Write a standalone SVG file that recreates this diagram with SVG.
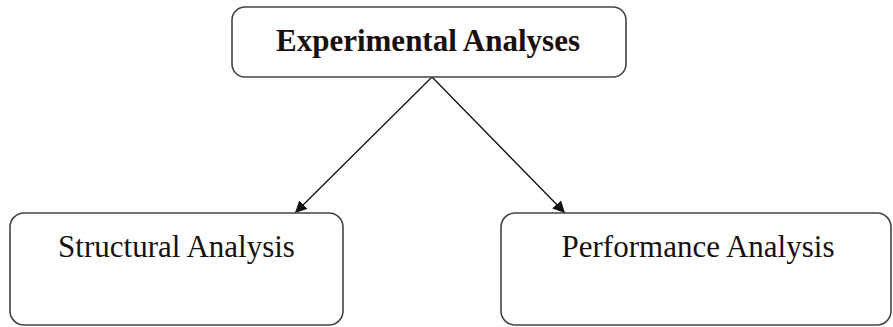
<svg xmlns="http://www.w3.org/2000/svg" width="893" height="327" viewBox="0 0 893 327">
<style>
.box{fill:#fff;stroke:#444;stroke-width:1.6}
.t{font-family:"Liberation Serif","Times New Roman",serif;fill:#1a1010;text-anchor:middle;font-size:31px}
.edge{stroke:#111;stroke-width:1.3;fill:none}
</style>
<defs>
<marker id="ah" viewBox="0 0 10 10" refX="10" refY="5" markerWidth="12" markerHeight="12" markerUnits="userSpaceOnUse" orient="auto">
<path d="M0,0 L10,5 L0,10 z" fill="#111"/>
</marker>
</defs>
<rect width="893" height="327" fill="#fff"/>
<g id="connectors">
<line class="edge" x1="432" y1="77" x2="295" y2="213" marker-end="url(#ah)"/>
<line class="edge" x1="432" y1="77" x2="565" y2="213" marker-end="url(#ah)"/>
</g>
<g id="experimental">
<rect class="box" x="232" y="7" width="394" height="70" rx="13"/>
<text class="t" x="428" y="51" font-weight="bold">Experimental Analyses</text>
</g>
<g id="structural">
<rect class="box" x="10" y="213" width="333" height="112" rx="14"/>
<text class="t" x="176.5" y="257">Structural Analysis</text>
</g>
<g id="performance">
<rect class="box" x="501" y="213" width="390" height="112" rx="14"/>
<text class="t" x="698" y="257">Performance Analysis</text>
</g>
</svg>
